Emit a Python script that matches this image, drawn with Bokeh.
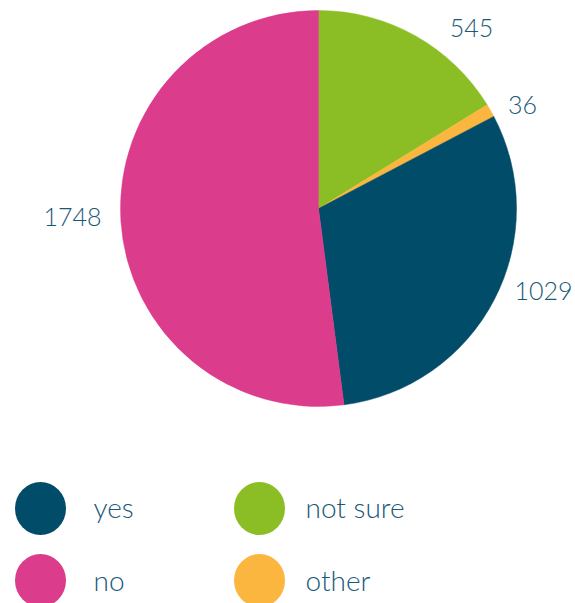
import math
from bokeh.plotting import figure
from bokeh.models import Range1d, ColumnDataSource
from bokeh.core.properties import value
from bokeh.embed import file_html
from bokeh.resources import INLINE

# ---- data (pie order, clockwise from 12 o'clock) ----
categories = ["not sure", "other", "yes", "no"]
counts = [545, 36, 1029, 1748]
colors = ["#8BBD24", "#FBB63F", "#004C69", "#DB3C8C"]

# legend order (row-major, two columns)
legend_order = ["yes", "not sure", "no", "other"]

# ---- layout constants (page pixels) ----
W, H = 575, 603
def X(px): return px
def Y(py): return H - py

CX, CY, R = X(318), Y(208), 198
label_pos = {"not sure": (471, 27), "other": (522, 104), "yes": (543, 290), "no": (72, 216)}
legend_pos = [(40, 508), (259, 508), (40, 580), (259, 580)]
legend_text_x = [93, 305, 93, 305]
legend_text_y = [506, 506, 579, 579]
TEXT_COLOR = "#1A5877"
FONT = value("Lato Light")

p = figure(width=W, height=H, output_backend="svg", toolbar_location=None,
           x_range=Range1d(0, W), y_range=Range1d(0, H), min_border=0)
p.axis.visible = False
p.grid.visible = False
p.outline_line_color = None
p.background_fill_color = "white"

total = sum(counts)
starts, ends, cum = [], [], 0
for c in counts:
    starts.append(math.pi / 2 - 2 * math.pi * cum / total)
    cum += c
    ends.append(math.pi / 2 - 2 * math.pi * cum / total)

src = ColumnDataSource(dict(x=[CX] * len(counts), y=[CY] * len(counts),
                            start=starts, end=ends, color=colors))
p.wedge(x="x", y="y", radius=R, start_angle="start", end_angle="end",
        direction="clock", fill_color="color", line_color="color",
        line_width=0.5, source=src)

# value labels
lx = [X(label_pos[c][0]) for c in categories]
ly = [Y(label_pos[c][1]) for c in categories]
p.text(x=lx, y=ly, text=[str(v) for v in counts], text_align="center",
       text_baseline="middle", text_font=FONT, text_font_size="25px",
       text_color=TEXT_COLOR)

# legend
col_of = dict(zip(categories, colors))
gx = [X(pos[0]) for pos in legend_pos]
gy = [Y(pos[1]) for pos in legend_pos]
p.ellipse(x=gx, y=gy, width=51, height=53,
          fill_color=[col_of[c] for c in legend_order], line_color=None)
p.text(x=[X(v) for v in legend_text_x], y=[Y(v) for v in legend_text_y],
       text=legend_order, text_align="left", text_baseline="middle",
       text_font=FONT, text_font_size="28px", text_color=TEXT_COLOR)

open("out.html", "w").write(file_html(p, INLINE))
